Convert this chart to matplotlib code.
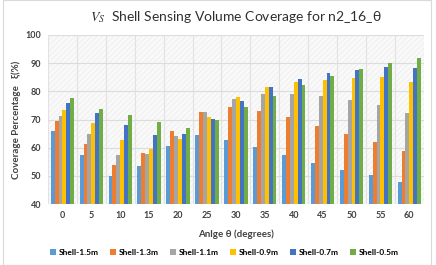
import numpy as np
import matplotlib.pyplot as plt
from matplotlib.patches import Rectangle

# angles and coverage per shell radius
angles = [0, 5, 10, 15, 20, 25, 30, 35, 40, 45, 50, 55, 60]
shells = ["Shell-1.5m", "Shell-1.3m", "Shell-1.1m", "Shell-0.9m", "Shell-0.7m", "Shell-0.5m"]
shell_15 = [65.8, 57.3, 50.1, 53.6, 60.6, 64.5, 62.6, 60.3, 57.3, 54.4, 52.2, 50.3, 47.8]
shell_13 = [69.5, 61.4, 53.7, 58.0, 65.8, 72.7, 74.4, 73.0, 70.8, 67.7, 64.8, 62.1, 58.9]
shell_11 = [71.3, 64.7, 57.4, 57.7, 64.3, 72.5, 77.3, 78.9, 78.9, 78.2, 77.0, 75.2, 72.4]
shell_09 = [73.5, 68.8, 62.9, 59.4, 63.2, 71.0, 78.0, 81.7, 83.4, 83.9, 84.7, 85.2, 83.3]
shell_07 = [76.0, 72.4, 68.2, 64.6, 64.9, 70.3, 76.4, 81.5, 84.5, 86.5, 87.7, 88.8, 88.3]
shell_05 = [77.7, 73.9, 71.7, 69.0, 67.1, 70.0, 74.4, 78.4, 82.1, 85.3, 88.0, 90.2, 91.7]

colors = ["#5B9BD5", "#ED7D31", "#A5A5A5", "#FFC000", "#4472C4", "#70AD47"]
series = [shell_15, shell_13, shell_11, shell_09, shell_07, shell_05]

plt.rcParams['font.family'] = ['Lato', 'DejaVu Sans']
plt.rcParams['mathtext.fontset'] = 'stix'
plt.rcParams['hatch.linewidth'] = 0.5

fig = plt.figure(figsize=(4.36, 2.65), dpi=100)
fig.patches.append(Rectangle((0.008, 0.0), 0.98, 1.0, transform=fig.transFigure,
                             fill=False, edgecolor="#d9d9d9", linewidth=0.8))
ax = fig.add_axes([0.11, 0.23, 0.862, 0.638])

x = np.arange(len(angles))
w = 0.135
for i, (vals, c, lab) in enumerate(zip(series, colors, shells)):
    ax.bar(x + (i - 2.5) * w, vals, width=w, color=c, label=lab, zorder=3)

ax.set_facecolor("#f9f9f9")
ax.add_patch(Rectangle((0, 0), 1, 1, transform=ax.transAxes, fill=False,
                       hatch="//////", edgecolor="#ececec", linewidth=0, zorder=0))
ax.set_xlim(-0.5, len(angles) - 0.5)
ax.set_ylim(40, 100)
ax.set_yticks(range(40, 101, 10))
ax.set_xticks(x)
ax.set_xticklabels([str(a) for a in angles])
ax.set_xticks(np.arange(-0.5, len(angles), 1), minor=True)
ax.grid(axis="y", color="#dcdcdc", linewidth=0.8, zorder=1)
ax.grid(axis="x", which="minor", color="#e2e2e2", linewidth=0.8, zorder=1)
ax.tick_params(axis="both", which="both", length=0, labelsize=6.5, colors="#404040", pad=5)
for t in ax.get_xticklabels() + ax.get_yticklabels():
    t.set_fontweight("bold")
for s in ax.spines.values():
    s.set_visible(False)

ax.set_xlabel("Anlge θ (degrees)", fontsize=7, fontweight="bold", color="#404040", labelpad=7)
ax.set_ylabel("Coverage Percentage   ξ(%)", fontsize=7, fontweight="bold", color="#404040", labelpad=3)
fig.text(0.54, 0.935, r"$V_S$  Shell Sensing Volume Coverage for n2_16_θ",
         ha="center", va="center", fontsize=10, color="#303030")

ax.legend(loc="upper center", bbox_to_anchor=(0.47, -0.22), ncol=6, frameon=False,
          handlelength=0.7, handleheight=0.7, handletextpad=0.4,
          columnspacing=1.3, prop={"weight": "bold", "size": 6})

fig.savefig("out.png", dpi=100)
